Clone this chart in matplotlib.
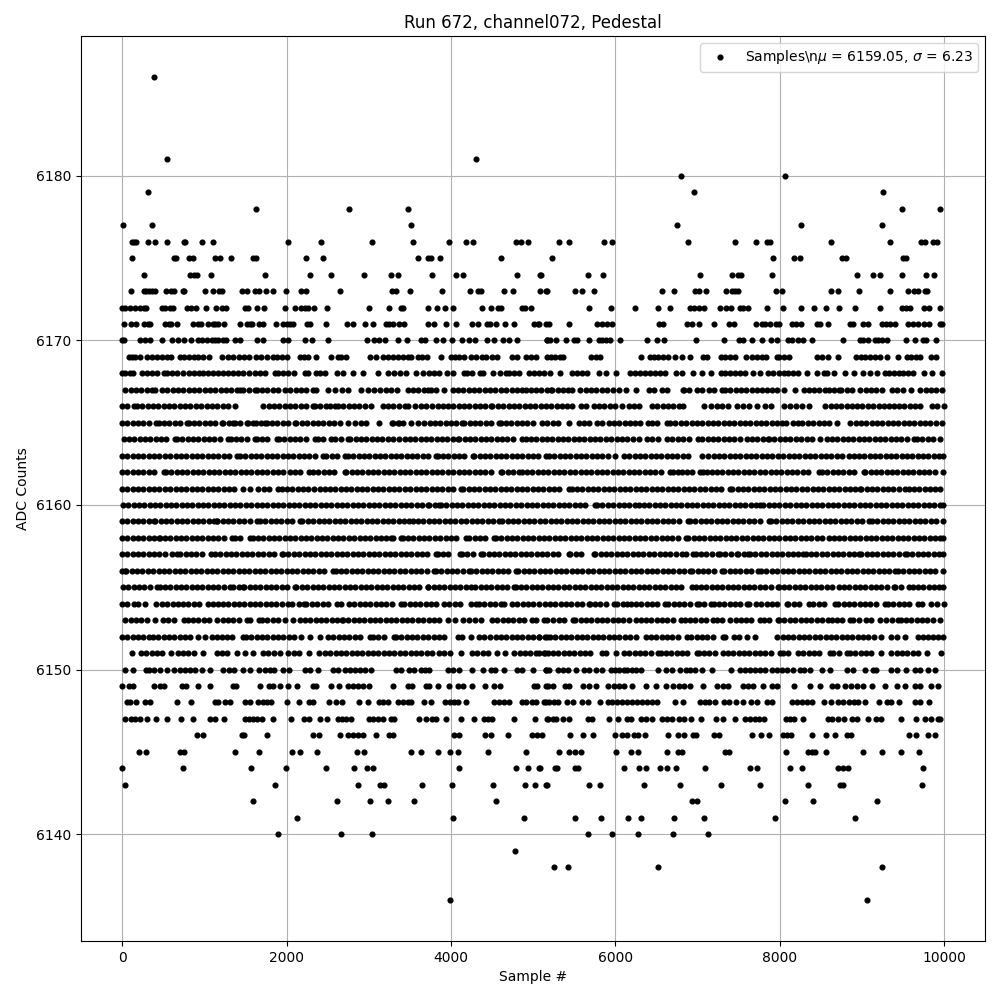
import numpy as np
import matplotlib
matplotlib.use("Agg")
import matplotlib.pyplot as plt

# sample numbers, one list per ADC level
x_6186 = [384]
x_6181 = [541, 4299]
x_6180 = [6800, 8060]
x_6179 = [311, 6957, 9260]
x_6178 = [1632, 2759, 3474, 9490, 9951]
x_6177 = [8, 360, 3511, 6751, 8254, 9248]
x_6176 = [121, 145, 174, 311, 400, 541, 747, 770, 978, 1111, 2020, 2420, 3038, 3535, 3971, 4181, 4274, 4787, 4848, 4941, 5309, 5430, 5867, 5964, 6885, 7454, 7709, 7842, 7883, 8618, 9345, 9721, 9761, 9862, 9907]
x_6175 = [117, 634, 658, 816, 860, 1127, 1196, 1329, 1588, 1624, 2238, 2444, 3596, 3717, 3757, 3862, 4614, 5224, 7915, 8170, 8242, 8759, 8804, 9503, 9535]
x_6174 = [263, 828, 869, 909, 1087, 1741, 2287, 2541, 2941, 3268, 3353, 3765, 4056, 4141, 4808, 5086, 5095, 5673, 5855, 7030, 7418, 7487, 7527, 7903, 8933, 9139, 9224, 9490, 9781, 9878]
x_6173 = [105, 263, 295, 331, 368, 396, 529, 594, 626, 735, 755, 1014, 1111, 1184, 1212, 1462, 1523, 1620, 1668, 1753, 1838, 1996, 2173, 2238, 2650, 3289, 3333, 3499, 3886, 4226, 4323, 4371, 4650, 4759, 5086, 5159, 5164, 5503, 5600, 5745, 6570, 6715, 6974, 7014, 7103, 7345, 7418, 7458, 7491, 7951, 8024, 8618, 8703, 8969, 9345, 9563, 9632, 9680, 9761, 9794]
x_6172 = [0, 40, 93, 154, 222, 270, 291, 485, 525, 580, 618, 788, 840, 905, 1026, 1147, 1212, 1269, 1495, 1535, 1644, 1729, 1984, 2105, 2178, 2222, 2262, 2335, 2493, 3002, 3244, 3394, 3422, 3717, 3826, 3923, 4020, 4383, 4493, 4577, 4606, 4868, 4900, 4969, 5681, 5952, 6242, 6521, 6667, 6905, 6955, 7015, 7074, 7277, 7345, 7406, 7511, 7547, 7608, 7842, 8036, 8254, 8412, 8557, 8715, 8909, 9224, 9490, 9530, 9579, 9749, 9818, 9951]
x_6171 = [20, 113, 170, 263, 310, 343, 525, 565, 594, 663, 857, 929, 960, 1050, 1100, 1130, 1164, 1244, 1438, 1523, 1555, 1584, 1668, 1709, 1866, 1959, 2000, 2040, 2073, 2254, 2290, 2485, 2735, 2808, 2953, 3050, 3204, 3250, 3293, 3365, 3426, 3717, 3798, 3939, 4056, 4250, 4323, 4444, 4472, 4553, 4662, 4771, 5014, 5062, 5075, 5156, 5196, 5430, 5782, 5842, 5903, 5964, 6529, 6578, 6873, 6933, 7018, 7204, 7378, 7438, 7709, 7782, 7822, 7883, 7951, 7992, 8145, 8194, 8254, 8452, 8490, 8582, 8852, 8893, 9006, 9067, 9248, 9297, 9338, 9398, 9560, 9620, 9680, 9749, 9810, 9943, 9971]
x_6170 = [0, 20, 214, 275, 343, 481, 606, 675, 747, 840, 929, 970, 1030, 1091, 1131, 1172, 1232, 1264, 1374, 1434, 1636, 1717, 1959, 2020, 2226, 2311, 2505, 2977, 3058, 3123, 3196, 3353, 3462, 3636, 3684, 3814, 3899, 4008, 4133, 4214, 4294, 4444, 4529, 4634, 4711, 4808, 5171, 5164, 5204, 5281, 5398, 5495, 5535, 5681, 5802, 5842, 5883, 5939, 6052, 6388, 6509, 6594, 6986, 7321, 7499, 7547, 7660, 7782, 7891, 7963, 8105, 8145, 8226, 8287, 8396, 8764, 8973, 9014, 9067, 9156, 9196, 9240, 9301, 9539, 9648, 9741, 9781, 9903]
x_6169 = [81, 121, 162, 214, 303, 364, 424, 485, 546, 598, 699, 747, 808, 869, 929, 990, 1054, 1212, 1293, 1345, 1426, 1483, 1543, 1628, 1689, 1757, 1838, 1886, 1939, 2000, 2161, 2210, 2262, 2355, 2545, 2626, 2666, 2727, 3010, 3083, 3171, 3232, 3293, 3353, 3414, 3474, 3515, 3596, 3648, 3705, 3874, 4000, 4052, 4101, 4161, 4242, 4303, 4383, 4424, 4497, 4565, 4747, 4808, 4909, 4969, 5038, 5171, 5216, 5269, 5325, 5366, 5705, 5762, 5814, 6307, 6416, 6468, 6521, 6578, 6642, 6731, 6812, 6913, 7067, 7115, 7285, 7337, 7398, 7458, 7588, 7660, 7721, 7782, 7834, 7963, 7992, 8056, 8113, 8448, 8509, 8582, 8703, 8921, 8986, 9042, 9095, 9156, 9216, 9305, 9438, 9547, 9600, 9660, 9700, 9834, 9903]
x_6168 = [0, 40, 93, 135, 242, 300, 360, 430, 505, 545, 610, 670, 740, 808, 869, 930, 990, 1050, 1110, 1170, 1230, 1290, 1350, 1410, 1470, 1540, 1616, 1677, 1740, 1858, 1899, 1960, 2020, 2090, 2222, 2262, 2363, 2404, 2470, 2614, 2687, 2808, 2929, 3111, 3232, 3313, 3380, 3450, 3576, 3657, 3729, 3798, 3860, 3947, 4020, 4162, 4190, 4260, 4351, 4392, 4513, 4598, 4667, 4707, 4770, 4830, 4950, 5010, 5070, 5130, 5210, 5321, 5467, 5530, 5590, 5650, 5806, 5887, 6008, 6182, 6240, 6300, 6360, 6420, 6480, 6540, 6600, 6735, 6815, 6948, 7050, 7160, 7281, 7334, 7400, 7460, 7520, 7580, 7679, 7760, 7854, 7923, 7985, 8045, 8105, 8165, 8225, 8329, 8450, 8532, 8572, 8654, 8796, 8897, 9011, 9100, 9181, 9283, 9324, 9384, 9444, 9504, 9564, 9624, 9750, 9851, 9973]
x_6167 = [40, 105, 170, 235, 300, 365, 404, 485, 550, 615, 680, 745, 810, 875, 940, 1005, 1070, 1135, 1200, 1265, 1330, 1395, 1434, 1475, 1540, 1616, 1636, 1700, 1765, 1830, 1899, 1980, 2045, 2110, 2175, 2240, 2323, 2363, 2505, 2586, 2679, 2747, 2909, 2990, 3070, 3131, 3212, 3273, 3342, 3475, 3540, 3605, 3670, 3717, 3758, 3823, 3919, 4020, 4085, 4150, 4215, 4280, 4345, 4410, 4475, 4540, 4605, 4667, 4747, 4808, 4861, 4917, 4970, 5035, 5100, 5165, 5212, 5232, 5297, 5362, 5427, 5467, 5575, 5640, 5705, 5770, 5835, 5900, 5965, 6048, 6129, 6250, 6404, 6469, 6565, 6626, 6840, 6827, 6892, 6990, 7058, 7140, 7205, 7294, 7334, 7399, 7464, 7529, 7594, 7659, 7724, 7780, 7842, 7907, 7963, 8057, 8179, 8296, 8349, 8414, 8479, 8552, 8593, 8658, 8715, 8747, 8812, 8877, 8978, 9043, 9108, 9173, 9242, 9364, 9429, 9494, 9596, 9709, 9774, 9839, 9904, 9973]
x_6166 = [0, 65, 141, 182, 247, 312, 377, 442, 507, 572, 637, 702, 767, 832, 897, 962, 1027, 1092, 1157, 1222, 1287, 1373, 1717, 1782, 1847, 1912, 1977, 2042, 2107, 2172, 2237, 2323, 2343, 2408, 2477, 2525, 2586, 2626, 2691, 2756, 2821, 2886, 2951, 3030, 3171, 3236, 3301, 3373, 3440, 3475, 3568, 3633, 3698, 3770, 3838, 3899, 3964, 4029, 4094, 4159, 4224, 4289, 4354, 4419, 4485, 4505, 4570, 4635, 4700, 4765, 4830, 4895, 4960, 5025, 5090, 5155, 5220, 5293, 5345, 5410, 5475, 5576, 5644, 5737, 5802, 5867, 5932, 5997, 6081, 6161, 6226, 6283, 6444, 6509, 6574, 6639, 6704, 6769, 6828, 7082, 7164, 7233, 7298, 7367, 7476, 7557, 7622, 7720, 7821, 7894, 8057, 8126, 8195, 8276, 8349, 8552, 8617, 8682, 8747, 8812, 8877, 8938, 9003, 9068, 9133, 9202, 9262, 9323, 9384, 9449, 9514, 9579, 9644, 9709, 9851, 9916, 9993]
x_6165 = [0, 65, 130, 195, 260, 325, 416, 444, 509, 574, 639, 704, 788, 808, 873, 938, 1003, 1068, 1133, 1212, 1232, 1297, 1345, 1374, 1439, 1515, 1535, 1596, 1628, 1693, 1737, 1757, 1822, 1887, 1952, 2017, 2101, 2121, 2186, 2251, 2316, 2381, 2446, 2511, 2576, 2646, 2747, 2828, 2909, 2961, 3119, 3293, 3373, 3285, 3350, 3415, 3515, 3604, 3677, 3742, 3807, 3872, 3937, 4002, 4067, 4133, 4162, 4227, 4292, 4357, 4422, 4487, 4586, 4606, 4671, 4736, 4801, 4866, 4931, 4996, 5111, 5172, 5237, 5302, 5434, 5555, 5620, 5685, 5778, 5838, 5919, 5984, 6049, 6114, 6179, 6244, 6303, 6396, 6444, 6509, 6626, 6666, 6731, 6796, 6861, 6926, 6991, 7056, 7121, 7186, 7251, 7316, 7381, 7446, 7511, 7576, 7641, 7706, 7771, 7836, 7901, 7966, 8024, 8073, 8166, 8219, 8276, 8341, 8406, 8471, 8536, 8601, 8694, 8857, 8922, 8987, 9052, 9117, 9182, 9247, 9312, 9377, 9442, 9507, 9572, 9637, 9702, 9767, 9832, 9897, 9973]
x_6164 = [20, 85, 150, 215, 280, 345, 410, 475, 540, 646, 667, 732, 796, 861, 926, 991, 1056, 1121, 1186, 1293, 1321, 1386, 1451, 1516, 1616, 1636, 1701, 1766, 1879, 1907, 1972, 2037, 2102, 2167, 2232, 2343, 2384, 2449, 2545, 2594, 2659, 2747, 2776, 2841, 2906, 2971, 3036, 3101, 3166, 3231, 3296, 3373, 3438, 3503, 3568, 3633, 3698, 3763, 3828, 3893, 3958, 4023, 4081, 4101, 4166, 4231, 4296, 4361, 4426, 4491, 4556, 4621, 4686, 4751, 4861, 4909, 4974, 5039, 5104, 5169, 5234, 5299, 5364, 5429, 5494, 5559, 5624, 5689, 5754, 5819, 5884, 5949, 6014, 6079, 6144, 6209, 6283, 6384, 6449, 6514, 6626, 6687, 6767, 6828, 6893, 7009, 7058, 7123, 7188, 7253, 7318, 7383, 7448, 7513, 7598, 7663, 7728, 7793, 7854, 7870, 7935, 8000, 8065, 8130, 8195, 8260, 8325, 8390, 8491, 8572, 8633, 8698, 8763, 8828, 8893, 8958, 9023, 9088, 9153, 9218, 9283, 9348, 9413, 9478, 9543, 9628, 9669, 9734, 9799, 9864, 9953]
x_6163 = [0, 65, 130, 195, 260, 325, 390, 455, 520, 585, 650, 715, 780, 845, 910, 975, 1040, 1105, 1170, 1235, 1300, 1394, 1434, 1499, 1564, 1629, 1694, 1759, 1824, 1889, 1954, 2019, 2084, 2149, 2214, 2279, 2344, 2444, 2485, 2550, 2615, 2707, 2747, 2812, 2877, 2942, 3007, 3072, 3137, 3202, 3267, 3332, 3397, 3462, 3527, 3592, 3657, 3722, 3818, 3838, 3903, 3968, 4033, 4098, 4163, 4263, 4283, 4348, 4413, 4478, 4543, 4608, 4673, 4738, 4803, 4868, 4933, 4998, 5063, 5151, 5192, 5257, 5322, 5387, 5452, 5517, 5582, 5647, 5712, 5777, 5842, 5907, 6000, 6101, 6170, 6235, 6300, 6365, 6430, 6495, 6560, 6625, 6690, 6755, 6820, 6885, 7050, 7131, 7196, 7261, 7326, 7391, 7456, 7521, 7586, 7651, 7716, 7781, 7846, 7911, 7976, 8041, 8106, 8171, 8236, 8301, 8366, 8431, 8496, 8561, 8626, 8691, 8756, 8836, 8897, 8962, 9027, 9092, 9157, 9222, 9287, 9352, 9417, 9482, 9547, 9612, 9677, 9742, 9807, 9872, 9937, 9990]
x_6162 = [0, 65, 130, 195, 260, 325, 390, 505, 533, 598, 663, 728, 793, 858, 923, 988, 1053, 1118, 1183, 1248, 1313, 1378, 1443, 1508, 1573, 1638, 1703, 1768, 1833, 1898, 1963, 2040, 2101, 2166, 2275, 2323, 2388, 2453, 2518, 2583, 2707, 2727, 2792, 2857, 2922, 2987, 3052, 3117, 3182, 3247, 3312, 3377, 3442, 3507, 3572, 3637, 3702, 3767, 3832, 3897, 3962, 4027, 4092, 4157, 4222, 4287, 4352, 4417, 4482, 4606, 4626, 4691, 4756, 4828, 4861, 4926, 4991, 5056, 5121, 5186, 5251, 5316, 5381, 5446, 5511, 5576, 5641, 5706, 5771, 5836, 5901, 5966, 6031, 6096, 6161, 6226, 6291, 6356, 6421, 6486, 6551, 6666, 6695, 6767, 6808, 6873, 6938, 7030, 7070, 7110, 7172, 7237, 7302, 7367, 7432, 7497, 7562, 7627, 7692, 7757, 7822, 7887, 7952, 8017, 8082, 8147, 8212, 8277, 8342, 8471, 8512, 8577, 8642, 8707, 8772, 8837, 8902, 9019, 9039, 9104, 9169, 9234, 9299, 9364, 9429, 9494, 9559, 9624, 9689, 9754, 9819, 9884, 9990]
x_6161 = [0, 65, 130, 195, 260, 325, 390, 455, 520, 585, 650, 715, 780, 845, 910, 975, 1040, 1105, 1170, 1235, 1300, 1365, 1475, 1555, 1656, 1721, 1786, 1899, 1939, 2004, 2069, 2134, 2199, 2264, 2329, 2404, 2464, 2529, 2594, 2659, 2724, 2789, 2854, 2919, 2984, 3049, 3114, 3179, 3244, 3309, 3374, 3439, 3504, 3569, 3634, 3699, 3764, 3829, 3894, 3959, 4024, 4121, 4149, 4214, 4279, 4344, 4409, 4474, 4539, 4604, 4669, 4734, 4799, 4864, 4929, 4994, 5059, 5124, 5189, 5254, 5319, 5434, 5467, 5532, 5597, 5662, 5727, 5792, 5857, 5922, 5987, 6052, 6117, 6182, 6247, 6312, 6377, 6442, 6507, 6572, 6637, 6702, 6767, 6832, 6897, 6962, 7027, 7092, 7157, 7222, 7287, 7395, 7423, 7488, 7553, 7618, 7683, 7748, 7813, 7878, 7943, 8008, 8073, 8138, 8203, 8268, 8333, 8398, 8463, 8528, 8593, 8658, 8723, 8788, 8853, 8918, 8978, 8990, 9055, 9120, 9185, 9250, 9315, 9380, 9445, 9527, 9567, 9632, 9697, 9762, 9827, 9892, 9953]
x_6160 = [10, 75, 140, 205, 270, 335, 400, 465, 530, 595, 660, 725, 790, 855, 920, 985, 1050, 1115, 1180, 1245, 1310, 1375, 1440, 1505, 1570, 1635, 1700, 1765, 1830, 1895, 1960, 2025, 2090, 2155, 2220, 2285, 2350, 2415, 2480, 2545, 2610, 2675, 2740, 2805, 2870, 2935, 3000, 3065, 3130, 3195, 3260, 3325, 3390, 3455, 3520, 3585, 3650, 3717, 3737, 3802, 3851, 3879, 3944, 4009, 4074, 4139, 4204, 4269, 4334, 4399, 4464, 4529, 4594, 4659, 4724, 4789, 4854, 4919, 4984, 5049, 5114, 5179, 5244, 5309, 5374, 5439, 5504, 5569, 5634, 5757, 5778, 5843, 5908, 5973, 6038, 6103, 6168, 6233, 6283, 6347, 6412, 6477, 6542, 6607, 6672, 6737, 6802, 6867, 6932, 6997, 7062, 7127, 7192, 7257, 7322, 7387, 7452, 7517, 7582, 7647, 7712, 7760, 7801, 7866, 7931, 7996, 8061, 8126, 8191, 8256, 8321, 8386, 8451, 8516, 8581, 8646, 8711, 8776, 8841, 8906, 8971, 9036, 9101, 9166, 9231, 9296, 9361, 9426, 9491, 9556, 9621, 9686, 9751, 9816, 9881, 9946, 9990]
x_6159 = [0, 65, 130, 195, 260, 325, 384, 404, 469, 534, 599, 664, 729, 794, 859, 924, 989, 1054, 1119, 1151, 1160, 1225, 1290, 1355, 1420, 1485, 1550, 1644, 1677, 1742, 1807, 1872, 1937, 2002, 2067, 2161, 2194, 2259, 2324, 2389, 2454, 2519, 2584, 2649, 2714, 2779, 2844, 2909, 2974, 3039, 3104, 3169, 3234, 3299, 3364, 3429, 3495, 3535, 3600, 3665, 3730, 3795, 3860, 3925, 3990, 4055, 4120, 4185, 4250, 4315, 4380, 4445, 4510, 4586, 4626, 4691, 4756, 4821, 4886, 4951, 5016, 5081, 5146, 5211, 5276, 5341, 5406, 5471, 5536, 5601, 5666, 5731, 5796, 5861, 5926, 5991, 6056, 6121, 6186, 6251, 6316, 6381, 6446, 6511, 6576, 6641, 6706, 6771, 6888, 6908, 6973, 7038, 7103, 7168, 7233, 7298, 7363, 7428, 7493, 7558, 7623, 7688, 7753, 7870, 7894, 7959, 8024, 8089, 8154, 8219, 8284, 8349, 8414, 8479, 8544, 8609, 8674, 8739, 8804, 8869, 8934, 8999, 9080, 9121, 9186, 9251, 9316, 9381, 9446, 9511, 9576, 9641, 9706, 9771, 9836, 9901, 9990]
x_6158 = [0, 65, 130, 195, 260, 325, 390, 444, 457, 522, 587, 652, 717, 782, 847, 912, 977, 1042, 1107, 1172, 1237, 1333, 1374, 1439, 1555, 1588, 1653, 1718, 1783, 1848, 1913, 1978, 2043, 2108, 2173, 2238, 2303, 2368, 2433, 2498, 2563, 2628, 2693, 2758, 2823, 2888, 2953, 3018, 3083, 3148, 3213, 3273, 3293, 3394, 3414, 3479, 3544, 3609, 3674, 3739, 3804, 3869, 3934, 3999, 4064, 4182, 4222, 4287, 4352, 4417, 4525, 4546, 4611, 4676, 4741, 4806, 4871, 4936, 5001, 5066, 5131, 5196, 5261, 5326, 5391, 5456, 5521, 5586, 5651, 5716, 5781, 5846, 5911, 5976, 6041, 6106, 6171, 6236, 6301, 6366, 6431, 6496, 6561, 6626, 6691, 6756, 6855, 6888, 6953, 7018, 7083, 7148, 7213, 7278, 7343, 7408, 7473, 7538, 7603, 7668, 7733, 7798, 7863, 7928, 7993, 8058, 8123, 8188, 8253, 8318, 8383, 8448, 8513, 8593, 8654, 8719, 8784, 8849, 8914, 8979, 9044, 9109, 9174, 9239, 9304, 9369, 9434, 9499, 9564, 9629, 9694, 9759, 9824, 9889, 9954, 9990]
x_6157 = [0, 65, 130, 195, 260, 325, 390, 455, 520, 606, 667, 707, 772, 837, 902, 967, 1079, 1131, 1196, 1261, 1326, 1391, 1456, 1521, 1586, 1651, 1716, 1781, 1846, 1947, 1959, 2024, 2089, 2154, 2219, 2284, 2349, 2414, 2479, 2544, 2609, 2674, 2739, 2804, 2869, 2934, 2999, 3064, 3129, 3194, 3259, 3324, 3389, 3454, 3519, 3584, 3649, 3714, 3818, 3838, 3903, 3968, 4109, 4133, 4198, 4263, 4364, 4392, 4457, 4522, 4587, 4652, 4717, 4782, 4847, 4912, 4977, 5042, 5107, 5172, 5237, 5302, 5434, 5454, 5519, 5584, 5737, 5757, 5822, 5887, 5952, 6017, 6082, 6147, 6212, 6277, 6342, 6407, 6472, 6537, 6602, 6667, 6732, 6807, 6856, 6948, 6977, 7042, 7107, 7172, 7253, 7273, 7338, 7403, 7476, 7497, 7562, 7619, 7639, 7704, 7769, 7834, 7899, 7964, 8029, 8094, 8159, 8224, 8288, 8316, 8381, 8446, 8511, 8576, 8641, 8706, 8771, 8836, 8901, 8958, 8990, 9055, 9120, 9185, 9250, 9315, 9380, 9445, 9527, 9547, 9612, 9677, 9742, 9807, 9872, 9937, 9990]
x_6156 = [0, 40, 53, 118, 183, 248, 313, 378, 443, 508, 573, 638, 703, 768, 833, 898, 963, 1028, 1093, 1158, 1223, 1288, 1353, 1418, 1483, 1548, 1613, 1678, 1743, 1808, 1873, 1938, 2003, 2068, 2133, 2198, 2263, 2328, 2393, 2458, 2565, 2598, 2663, 2728, 2793, 2858, 2923, 2988, 3053, 3118, 3183, 3248, 3313, 3378, 3443, 3508, 3573, 3638, 3703, 3798, 3818, 3883, 3948, 4013, 4078, 4143, 4222, 4242, 4307, 4372, 4437, 4502, 4567, 4632, 4697, 4788, 4820, 4885, 4950, 5015, 5080, 5145, 5210, 5275, 5340, 5405, 5470, 5535, 5600, 5665, 5730, 5795, 5860, 5925, 5990, 6055, 6120, 6185, 6250, 6315, 6380, 6445, 6510, 6575, 6640, 6705, 6770, 6835, 6908, 6937, 7002, 7067, 7132, 7197, 7302, 7326, 7391, 7456, 7521, 7586, 7651, 7732, 7773, 7838, 7903, 7968, 8033, 8098, 8163, 8228, 8293, 8358, 8423, 8488, 8553, 8618, 8683, 8748, 8813, 8878, 8943, 9008, 9073, 9138, 9203, 9268, 9333, 9405, 9437, 9502, 9567, 9632, 9697, 9762, 9827, 9892, 9990]
x_6155 = [10, 75, 140, 205, 270, 335, 424, 457, 522, 587, 652, 717, 782, 847, 912, 977, 1042, 1107, 1172, 1237, 1313, 1353, 1418, 1466, 1487, 1552, 1617, 1682, 1747, 1812, 1877, 1942, 2007, 2101, 2121, 2186, 2251, 2316, 2381, 2446, 2511, 2576, 2641, 2706, 2771, 2836, 2901, 2966, 3031, 3096, 3161, 3226, 3291, 3356, 3421, 3486, 3551, 3616, 3717, 3725, 3790, 3855, 3920, 3985, 4050, 4115, 4180, 4242, 4295, 4360, 4425, 4490, 4555, 4620, 4685, 4768, 4788, 4853, 4918, 4983, 5048, 5113, 5178, 5243, 5308, 5373, 5438, 5503, 5568, 5633, 5698, 5763, 5828, 5893, 5958, 6023, 6088, 6153, 6218, 6283, 6348, 6413, 6478, 6543, 6608, 6673, 6738, 6803, 6928, 6977, 7042, 7107, 7172, 7237, 7302, 7367, 7432, 7497, 7562, 7627, 7692, 7757, 7822, 7887, 7977, 7985, 8050, 8115, 8180, 8245, 8310, 8375, 8440, 8505, 8570, 8635, 8716, 8781, 8846, 8911, 8976, 9041, 9106, 9171, 9236, 9301, 9384, 9405, 9470, 9567, 9616, 9681, 9746, 9811, 9876, 9941, 9990]
x_6154 = [0, 60, 150, 194, 283, 416, 485, 550, 618, 679, 739, 804, 869, 934, 1050, 1103, 1168, 1232, 1293, 1358, 1423, 1488, 1553, 1618, 1683, 1748, 1813, 1878, 1943, 2020, 2072, 2149, 2214, 2243, 2308, 2373, 2438, 2503, 2614, 2666, 2759, 2824, 2889, 2954, 3019, 3084, 3149, 3214, 3279, 3394, 3434, 3499, 3564, 3629, 3694, 3759, 3824, 3919, 3979, 4044, 4109, 4242, 4303, 4343, 4408, 4473, 4538, 4606, 4646, 4739, 4808, 4873, 4938, 5003, 5075, 5140, 5205, 5270, 5335, 5400, 5465, 5530, 5595, 5681, 5689, 5754, 5819, 5884, 5984, 6024, 6089, 6145, 6186, 6251, 6316, 6381, 6446, 6511, 6602, 6642, 6707, 6772, 6837, 6902, 6994, 7014, 7079, 7168, 7196, 7261, 7326, 7391, 7456, 7521, 7600, 7620, 7709, 7774, 7839, 7904, 7969, 8085, 8105, 8170, 8235, 8355, 8408, 8473, 8538, 8671, 8711, 8776, 8841, 8906, 8971, 9036, 9101, 9166, 9277, 9317, 9382, 9447, 9512, 9577, 9681, 9729, 9842, 9907, 9996]
x_6153 = [40, 105, 170, 235, 300, 404, 497, 562, 627, 747, 796, 861, 926, 991, 1056, 1151, 1224, 1289, 1354, 1419, 1515, 1555, 1660, 1701, 1766, 1831, 1896, 1980, 2081, 2161, 2226, 2291, 2356, 2421, 2486, 2551, 2616, 2679, 2687, 2752, 2817, 2882, 2947, 3012, 3077, 3142, 3207, 3272, 3337, 3402, 3467, 3532, 3597, 3662, 3727, 3792, 3857, 3959, 4052, 4141, 4222, 4287, 4363, 4497, 4565, 4630, 4695, 4760, 4825, 4890, 4989, 5030, 5131, 5164, 5237, 5309, 5374, 5487, 5511, 5576, 5641, 5706, 5771, 5836, 5901, 5966, 6031, 6096, 6161, 6246, 6307, 6372, 6437, 6502, 6567, 6632, 6697, 6804, 6844, 6909, 6974, 7039, 7104, 7184, 7236, 7301, 7398, 7467, 7523, 7588, 7653, 7761, 7802, 7867, 7976, 7992, 8057, 8122, 8187, 8252, 8317, 8382, 8447, 8512, 8590, 8630, 8695, 8760, 8852, 8893, 8958, 9054, 9115, 9216, 9297, 9362, 9438, 9470, 9535, 9600, 9665, 9730, 9795, 9860, 9943]
x_6152 = [0, 65, 130, 195, 260, 323, 376, 441, 506, 571, 636, 701, 766, 831, 929, 1010, 1091, 1151, 1212, 1277, 1342, 1466, 1507, 1572, 1637, 1702, 1767, 1832, 1897, 1962, 2027, 2092, 2182, 2287, 2408, 2505, 2570, 2635, 2700, 2765, 2830, 2895, 3010, 3050, 3115, 3180, 3313, 3333, 3398, 3463, 3528, 3593, 3658, 3723, 3788, 3853, 3918, 4081, 4133, 4242, 4343, 4404, 4472, 4545, 4610, 4675, 4740, 4805, 4870, 4935, 5000, 5065, 5171, 5075, 5140, 5205, 5270, 5335, 5400, 5465, 5530, 5595, 5660, 5725, 5790, 5855, 5920, 5985, 6050, 6115, 6180, 6245, 6367, 6432, 6497, 6562, 6627, 6692, 6757, 6873, 6925, 6990, 7055, 7120, 7185, 7305, 7337, 7438, 7499, 7600, 7700, 7963, 8036, 8101, 8166, 8231, 8296, 8361, 8426, 8491, 8556, 8621, 8686, 8751, 8816, 8881, 8946, 9011, 9076, 9141, 9236, 9358, 9423, 9519, 9681, 9746, 9802, 9862, 9923, 9984]
x_6151 = [117, 230, 295, 360, 425, 490, 594, 675, 740, 805, 870, 990, 1151, 1216, 1281, 1402, 1499, 1596, 1717, 1778, 1843, 1919, 2020, 2093, 2153, 2274, 2396, 2468, 2533, 2598, 2663, 2728, 2793, 2858, 2923, 2988, 3053, 3118, 3183, 3248, 3313, 3378, 3443, 3508, 3573, 3638, 3703, 3768, 3850, 3919, 3984, 4121, 4254, 4319, 4384, 4449, 4565, 4658, 4767, 4836, 4901, 4966, 5031, 5143, 5075, 5135, 5176, 5241, 5306, 5371, 5436, 5501, 5566, 5631, 5696, 5842, 5883, 6004, 6105, 6170, 6235, 6300, 6365, 6430, 6517, 6549, 6614, 6679, 6744, 6809, 6874, 6994, 7014, 7079, 7144, 7209, 7305, 7370, 7435, 7500, 7565, 7630, 7695, 7760, 7825, 7890, 8004, 8036, 8101, 8226, 8287, 8352, 8417, 8482, 8610, 8650, 8715, 8812, 8852, 8917, 8982, 9047, 9112, 9236, 9358, 9423, 9488, 9553, 9618, 9683, 9790, 9963]
x_6150 = [32, 137, 295, 327, 392, 457, 545, 626, 707, 760, 828, 889, 970, 1071, 1232, 1297, 1362, 1466, 1559, 1668, 1733, 1800, 1850, 1959, 2032, 2222, 2287, 2384, 2565, 2626, 2707, 2768, 2828, 2889, 2950, 3030, 3333, 3394, 3495, 3556, 3636, 3680, 3737, 3959, 4020, 4100, 4262, 4391, 4484, 4533, 4650, 4808, 4869, 4994, 5151, 5156, 5196, 5297, 5358, 5419, 5519, 5620, 5681, 5762, 5842, 5943, 6000, 6044, 6100, 6145, 6200, 6246, 6307, 6521, 6610, 6691, 6792, 6860, 6913, 6974, 7054, 7176, 7406, 7519, 7580, 7640, 7700, 7760, 7822, 7903, 7963, 8024, 8090, 8165, 8246, 8300, 8372, 8513, 8614, 8812, 8893, 9042, 9135, 9176, 9353, 9430, 9539, 9640, 9700, 9802, 9883]
x_6149 = [0, 81, 129, 384, 457, 505, 727, 780, 929, 1075, 1353, 1386, 1681, 1790, 1838, 1919, 2020, 2129, 2323, 2363, 2545, 2638, 2747, 2808, 2868, 2929, 3002, 3297, 3474, 3527, 3697, 3737, 3838, 3979, 4081, 4141, 4254, 4420, 4525, 4602, 5010, 5050, 5159, 5176, 5237, 5390, 5438, 5608, 5681, 5762, 5915, 5984, 6044, 6105, 6206, 6376, 6489, 6618, 6703, 6772, 6832, 6913, 7067, 7236, 7305, 7370, 7547, 7612, 7680, 7790, 7903, 7963, 8178, 8372, 8493, 8630, 8699, 8791, 8872, 8933, 9014, 9123, 9285, 9430, 9519, 9640, 9709, 9842, 9927]
x_6148 = [61, 101, 170, 275, 343, 663, 844, 1131, 1171, 1252, 1313, 1495, 1555, 1656, 1717, 1757, 1814, 2008, 2153, 2270, 2323, 2517, 2598, 2675, 2881, 2990, 3123, 3171, 3232, 3353, 3414, 3474, 3515, 3668, 3753, 3923, 3983, 4040, 4081, 4177, 4525, 4586, 4646, 4707, 4868, 4909, 4990, 5030, 5151, 5135, 5196, 5257, 5297, 5406, 5479, 5588, 5661, 5818, 5915, 5956, 6024, 6085, 6145, 6206, 6267, 6327, 6388, 6448, 6509, 6727, 6824, 7034, 7095, 7143, 7216, 7317, 7378, 7467, 7551, 7652, 7721, 7842, 7903, 8145, 8206, 8267, 8327, 8388, 8533, 8618, 8711, 8772, 8840, 8897, 8953, 9042, 9212, 9305, 9358, 9446, 9644, 9709, 9818]
x_6147 = [40, 109, 161, 222, 299, 408, 541, 711, 857, 1071, 1131, 1240, 1495, 1544, 1596, 1644, 1697, 1838, 2056, 2210, 2270, 2408, 2493, 2626, 2675, 2727, 2788, 3002, 3050, 3111, 3171, 3272, 3313, 3608, 3697, 3765, 3818, 3939, 4117, 4286, 4408, 4456, 4505, 4771, 5026, 5171, 5176, 5237, 5281, 5366, 5430, 5661, 5721, 5927, 6036, 6145, 6186, 6307, 6368, 6448, 6570, 6630, 6691, 6772, 6836, 6925, 7042, 7224, 7309, 7454, 7580, 7640, 7701, 7741, 7802, 8073, 8125, 8178, 8287, 8582, 8630, 8711, 8780, 8873, 8933, 9075, 9168, 9228, 9475, 9653, 9762, 9834, 9923, 9951]
x_6146 = [909, 990, 1454, 1483, 1765, 2323, 2396, 2650, 2747, 2808, 2868, 2929, 3087, 3244, 3293, 4040, 4093, 4420, 4485, 4699, 4990, 5046, 5102, 5447, 5604, 5733, 6000, 6084, 6145, 6230, 6279, 6359, 6642, 6764, 6836, 6945, 6981, 7200, 7256, 7660, 7770, 7867, 8036, 8085, 8133, 8388, 8557, 8667, 8812, 8864, 9576, 9660, 9806, 9891]
x_6145 = [202, 287, 707, 747, 1378, 1668, 2068, 2165, 2371, 2856, 2941, 3511, 3632, 3838, 3983, 4081, 4456, 4917, 5309, 5430, 5503, 5576, 6012, 6194, 6279, 6630, 6764, 6812, 7329, 7378, 8073, 8347, 8388, 8428, 8557, 9006, 9248, 9479, 9697]
x_6144 = [0, 735, 1572, 1996, 2481, 2820, 2977, 3050, 4093, 4795, 4941, 5074, 5083, 5265, 5285, 5511, 5551, 6109, 6291, 6376, 6545, 6630, 6739, 7091, 7636, 7721, 8121, 8266, 8703, 8772, 8832, 9745]
x_6143 = [32, 1862, 2868, 3131, 3183, 3644, 4008, 4517, 4905, 5026, 5159, 5164, 5685, 5819, 6351, 6787, 7285, 7757, 8339, 8731, 8763, 9733]
x_6142 = [1596, 2614, 3014, 3232, 3547, 4553, 6933, 6994, 8060, 8400, 9188]
x_6141 = [2129, 4020, 4892, 5503, 5830, 6158, 6315, 6715, 7079, 7939, 8909]
x_6140 = [1899, 2662, 3038, 5661, 5964, 6279, 6703, 7127]
x_6139 = [4783]
x_6138 = [5249, 5418, 6521, 9248]
x_6136 = [3983, 9066]

levels = [6186, 6181, 6180, 6179, 6178, 6177, 6176, 6175, 6174, 6173, 6172, 6171, 6170,
          6169, 6168, 6167, 6166, 6165, 6164, 6163, 6162, 6161, 6160, 6159, 6158, 6157,
          6156, 6155, 6154, 6153, 6152, 6151, 6150, 6149, 6148, 6147, 6146, 6145, 6144,
          6143, 6142, 6141, 6140, 6139, 6138, 6136]
samples = [x_6186, x_6181, x_6180, x_6179, x_6178, x_6177, x_6176, x_6175, x_6174, x_6173, x_6172, x_6171, x_6170,
           x_6169, x_6168, x_6167, x_6166, x_6165, x_6164, x_6163, x_6162, x_6161, x_6160, x_6159, x_6158, x_6157,
           x_6156, x_6155, x_6154, x_6153, x_6152, x_6151, x_6150, x_6149, x_6148, x_6147, x_6146, x_6145, x_6144,
           x_6143, x_6142, x_6141, x_6140, x_6139, x_6138, x_6136]

x = np.concatenate([np.array(s) for s in samples])
y = np.concatenate([np.full(len(s), lv) for s, lv in zip(samples, levels)])
order = np.argsort(x)

fig, ax = plt.subplots(figsize=(10, 10))
ax.plot(x[order], y[order], 'k.', markersize=6.8, label=r'Samples\n$\mu$ = 6159.05, $\sigma$ = 6.23')
ax.set_xlabel('Sample #')
ax.set_ylabel('ADC Counts')
ax.set_title('Run 672, channel072, Pedestal')
ax.grid(True)
ax.legend(loc='upper right')
fig.subplots_adjust(left=0.081, right=0.985, top=0.964, bottom=0.059)
fig.savefig('out.png', dpi=100)
